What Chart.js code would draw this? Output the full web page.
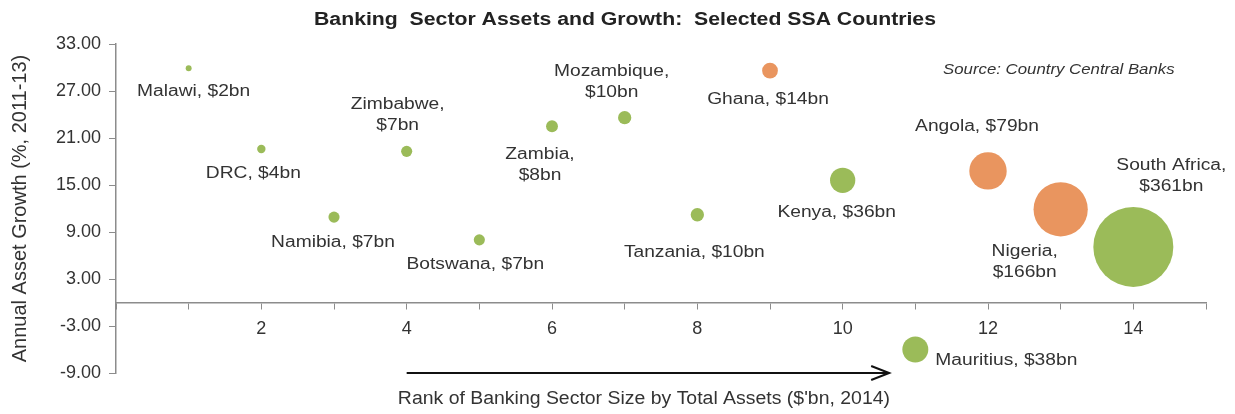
<!DOCTYPE html>
<html>
<head>
<meta charset="utf-8">
<script src="https://cdn.jsdelivr.net/npm/chart.js@4/dist/chart.umd.min.js"></script>
<style>
  body { margin: 0; background: #fff; }
  canvas { display: block; }
</style>
</head>
<body>
<canvas id="bubbles" width="1235" height="414"></canvas>
<script>
const countries = ['Malawi', 'DRC', 'Namibia', 'Zimbabwe', 'Botswana', 'Zambia', 'Mozambique',
  'Tanzania', 'Ghana', 'Kenya', 'Mauritius', 'Angola', 'Nigeria', 'South Africa']
const rank = [1, 2, 3, 4, 5, 6, 7, 8, 9, 10, 11, 12, 13, 14]
const growth = [29.9, 19.6, 10.9, 19.3, 8.0, 22.5, 23.6, 11.2, 29.6, 15.6, -6.0, 16.8, 11.9, 7.1]
const assets = [2, 4, 7, 7, 7, 8, 10, 10, 14, 36, 38, 79, 166, 361]
const orangeOnes = ['Ghana', 'Angola', 'Nigeria']
const twoLines = ['Zimbabwe', 'Zambia', 'Mozambique', 'Nigeria', 'South Africa']
const yTicks = [-9, -3, 3, 9, 15, 21, 27, 33]

// where each label sits relative to its bubble (px, centre of first line)
const labelOffset = [[5, 23], [-8, 25], [-1, 25], [-9, -47], [-4, 25], [-12, 28], [-13, -46],
  [-3, 38], [-2, 29], [-6, 32], [91, 11], [-11, -44], [-36, 42], [38, -81]]

const GREEN = '#9bbb59'
const ORANGE = '#e9955f'
const AXIS = '#8c8c8c'
const TEXT = '#333333'

// text in the picture is drawn wide, so stretch it out horizontally
function wideText(ctx, str, x, y, font, sx, align) {
  ctx.save()
  ctx.font = font
  ctx.textAlign = align || 'center'
  ctx.textBaseline = 'middle'
  ctx.translate(x, y)
  ctx.scale(sx, 1)
  ctx.fillText(str, 0, 0)
  ctx.restore()
}

let points = rank.map((r, i) => ({ x: r, y: growth[i], r: 40 * Math.sqrt(assets[i] / 361) }))
let colours = countries.map(c => orangeOnes.includes(c) ? ORANGE : GREEN)

const extras = {
  id: 'extras',
  afterDatasetsDraw(chart) {
    const ctx = chart.ctx
    const xs = chart.scales.x
    const ys = chart.scales.y
    const meta = chart.getDatasetMeta(0)
    ctx.fillStyle = TEXT

    meta.data.forEach((pt, i) => {
      let name = countries[i]
      let money = '$' + assets[i] + 'bn'
      let cx = pt.x + labelOffset[i][0]
      let cy = pt.y + labelOffset[i][1]
      if (twoLines.includes(name)) {
        wideText(ctx, name + ',', cx, cy, '16px "Liberation Sans"', 1.2)
        wideText(ctx, money, cx, cy + 21, '16px "Liberation Sans"', 1.2)
      } else {
        wideText(ctx, name + ', ' + money, cx, cy, '16px "Liberation Sans"', 1.2)
      }
    })

    ctx.fillStyle = '#222'
    wideText(ctx, 'Banking  Sector Assets and Growth:  Selected SSA Countries', 625, 20,
      'bold 18px "Liberation Sans"', 1.18)
    ctx.fillStyle = TEXT
    wideText(ctx, 'Source: Country Central Banks', 943, 70, 'italic 14px "Liberation Sans"', 1.2, 'left')

    // axis title for y
    ctx.save()
    ctx.translate(20, (chart.chartArea.top + chart.chartArea.bottom) / 2)
    ctx.rotate(-Math.PI / 2)
    wideText(ctx, 'Annual Asset Growth (%, 2011-13)', 0, 0, '20px "Liberation Sans"', 1)
    ctx.restore()

    // arrow under the plot with the x title
    let ax1 = xs.getPixelForValue(4)
    let ax2 = xs.getPixelForValue(10.64)
    let ay = ys.getPixelForValue(-9)
    ctx.save()
    ctx.strokeStyle = '#111'
    ctx.lineWidth = 2
    ctx.beginPath()
    ctx.moveTo(ax1, ay)
    ctx.lineTo(ax2, ay)
    ctx.moveTo(ax2 - 18, ay - 7)
    ctx.lineTo(ax2, ay)
    ctx.lineTo(ax2 - 18, ay + 7)
    ctx.stroke()
    ctx.restore()
    wideText(ctx, "Rank of Banking Sector Size by Total Assets ($'bn, 2014)", (ax1 + ax2) / 2 - 4, 399,
      '18px "Liberation Sans"', 1.08)
  }
}

let chartCtx = document.getElementById('bubbles').getContext('2d')

let bubbleChart = new Chart(chartCtx, {
  type: 'bubble',
  data: {
    datasets: [{
      label: 'Banking sector',
      data: points,
      backgroundColor: colours,
      borderWidth: 0,
      hoverBorderWidth: 0,
      hoverRadius: 0
    }]
  },
  options: {
    responsive: false,
    animation: false,
    events: [],
    layout: { autoPadding: false, padding: { top: 44, right: 29, bottom: 41, left: 0 } },
    plugins: {
      legend: { display: false },
      tooltip: { enabled: false }
    },
    scales: {
      x: {
        type: 'linear',
        min: 0,
        max: 15,
        position: { y: 0 },
        ticks: {
          stepSize: 1,
          autoSkip: false,
          maxRotation: 0,
          padding: 10,
          color: TEXT,
          font: { family: 'Liberation Sans', size: 18 },
          callback: v => (v % 2 === 0 && v > 0 && v < 15) ? String(v) : ''
        },
        grid: { drawOnChartArea: false, tickLength: 6, color: AXIS },
        border: { color: AXIS, width: 1.5 }
      },
      y: {
        type: 'linear',
        min: yTicks[0],
        max: yTicks[yTicks.length - 1],
        afterBuildTicks: s => { s.ticks = yTicks.map(v => ({ value: v })) },
        ticks: {
          padding: 8,
          color: TEXT,
          font: { family: 'Liberation Sans', size: 18 },
          callback: v => v.toFixed(2)
        },
        grid: { drawOnChartArea: false, tickLength: 7, color: AXIS },
        border: { color: AXIS, width: 1.5 },
        afterFit: s => { s.width = 116 }
      }
    }
  },
  plugins: [extras]
})
</script>
</body>
</html>
